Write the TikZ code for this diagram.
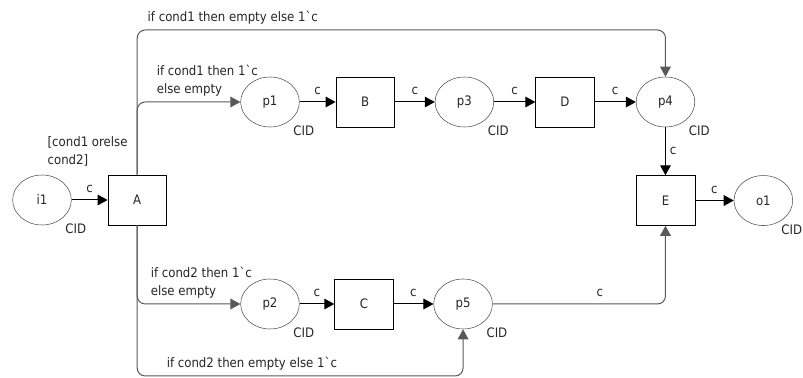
\documentclass[tikz,border=0pt]{standalone}
\usepackage{fontspec}
\setmainfont{DejaVu Sans Condensed}
\usetikzlibrary{arrows.meta,positioning,shapes.geometric}

\begin{document}
\begin{tikzpicture}[x=0.75pt,y=0.75pt,>={Triangle[length=7.5pt,width=8pt]},
      every node/.style={font=\fontsize{9.8}{13.5}\selectfont,text=black!85},
      placebody/.style={draw=black!70,ellipse,minimum width=44pt,minimum height=37.5pt,inner sep=0pt},
      place/.style={placebody,label={[cid]below right:CID}},
      trans/.style={draw,rectangle,minimum width=44pt,minimum height=37.5pt,inner sep=0pt},
      cid/.style={inner sep=2pt,xshift=1pt,yshift=-1.5pt},
      arr/.style={->,line width=0.75pt},
      arc/.style={->,draw=black!65,line width=0.75pt,rounded corners=6pt},
      clbl/.style={above=4pt,inner sep=1pt},
      lbl/.style={anchor=south west,inner sep=1pt,yshift=3pt,align=left}]
    \useasboundingbox (0,0) rectangle (803,378);
    \coordinate (top) at (0,348);
    \coordinate (bot) at (0,2);
    % places and transitions
    \node[place] (i1) at (42,178) {i1};
    \node[trans,right=27pt of i1] (A) {A};
    \node[place] (p1) at (270,276) {p1};
    \node[trans,right=27pt of p1] (B) {B};
    \node[place,right=30pt of B] (p3) {p3};
    \node[trans,right=31pt of p3] (D) {D};
    \node[place,right=31pt of D] (p4) {p4};
    \node[trans,below=36pt of p4] (E) {E};
    \node[placebody,label={[cid,xshift=-4pt]below right:CID},right=29pt of E] (o1) {o1};
    \node[place] (p2) at (270,74) {p2};
    \node[trans,right=26pt of p2] (C) {C};
    \node[place,right=30pt of C] (p5) {p5};
    \node[anchor=south,align=left,inner sep=1pt,xshift=-15pt,yshift=5pt] (guardA)
      at (A.north west) {[cond1 orelse\\cond2]};
    % arcs
    \draw[arr] (i1) -- node[clbl]{c} (A);
    \draw[arr] (p1) -- node[clbl]{c} (B);
    \draw[arr] (B) -- node[clbl]{c} (p3);
    \draw[arr] (p3) -- node[clbl]{c} (D);
    \draw[arr] (D) -- node[clbl]{c} (p4);
    \draw[arr] (p4) -- node[right=2pt,inner sep=1pt]{c} (E);
    \draw[arr] (E) -- node[clbl]{c} (o1);
    \draw[arr] (p2) -- node[clbl]{c} (C);
    \draw[arr] (C) -- node[clbl]{c} (p5);
    \draw[arc] (A.north) -- (A.north |- top)
      node[lbl,xshift=6.5pt]{if cond1 then empty else 1\textasciigrave c} -| (p4.north);
    \draw[arc] (A.north) |- node[lbl,pos=0.5,xshift=13.3pt]{if cond1 then 1\textasciigrave c\\else empty} (p1.west);
    \draw[arc] (A.south) |- node[lbl,pos=0.5,xshift=8.8pt]{if cond2 then 1\textasciigrave c\\else empty} (p2.west);
    \draw[arc] (A.south) -- (A.south |- bot)
      node[lbl,xshift=20.8pt]{if cond2 then empty else 1\textasciigrave c} -| (p5.south);
    \draw[arc] (p5.east) -| node[clbl,pos=0.31]{c} (E.south);
  \end{tikzpicture}
\end{document}
